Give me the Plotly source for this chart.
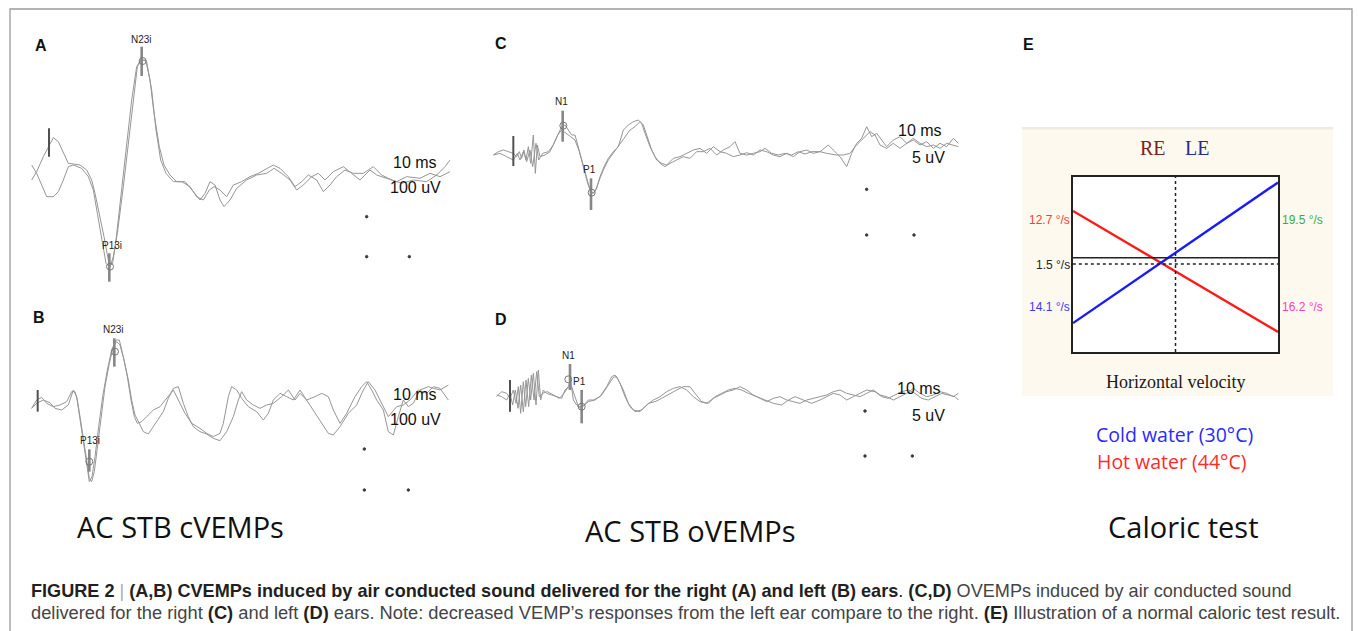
import plotly.graph_objects as go

W, H = 1358, 631

# ---------------- DATA ----------------
# Panel A (cVEMP right ear), latency units / amplitude units (inverted display)
A_trace1 = [(95,540),(110,515),(130,470),(150,430),(160,413),(175,425),(190,460),(205,490),(220,492),(240,495),
            (260,510),(275,540),(285,580),(298,640),(312,710),(325,780),(330,800),(340,770),(352,700),(370,560),
            (385,430),(400,300),(412,200),(425,178),(440,185),(455,270),(468,390),(482,480),(498,520),(520,545),
            (545,545),(570,560),(590,590),(610,600),(628,570),(642,560),(660,570),(680,590),(700,555),(725,545),
            (750,530),(775,520),(800,505),(820,495),(840,505),(865,530),(885,560),(905,545),(925,525),(950,540),
            (970,575),(990,555),(1010,530),(1035,510),(1060,520),(1090,520),(1120,500),(1145,525),(1175,540),
            (1205,550),(1240,540),(1280,545),(1310,525),(1335,500),(1350,480)]
A_trace2 = [(95,495),(110,520),(125,555),(140,590),(160,590),(175,575),(190,540),(205,500),(220,495),(245,505),
            (265,530),(280,570),(292,640),(305,720),(318,790),(328,800),(338,790),(348,720),(362,600),(378,450),
            (395,300),(410,200),(422,180),(437,180),(450,240),(462,340),(478,440),(492,495),(510,525),(530,545),
            (555,545),(580,575),(600,600),(615,580),(630,545),(645,555),(660,600),(672,620),(690,600),(710,565),
            (740,540),(770,525),(800,520),(822,505),(845,520),(870,540),(890,570),(910,555),(935,530),(955,520),
            (975,540),(1000,515),(1030,500),(1055,520),(1080,540),(1110,510),(1130,525),(1160,535),(1190,545),
            (1220,530),(1260,535),(1290,520),(1320,530),(1350,515)]
A_bar_x, A_bar_top, A_bar_bot = [425, 328], [140, 760], [228, 845]
A_start = (147, 385, 470)
A_rings = [(428,183),(330,800)]
A_dots = [(1100,650),(1100,770),(1228,770)]

# Panel B (cVEMP left ear)
B_trace1 = [(95,355),(110,330),(125,322),(140,340),(160,350),(180,345),(200,335),(215,305),(225,305),(232,330),
            (240,380),(250,440),(260,510),(268,565),(275,575),(283,545),(292,470),(303,380),(315,290),(328,220),
            (340,170),(350,155),(360,165),(372,210),(385,270),(395,330),(405,375),(418,400),(430,425),(445,432),
            (460,410),(475,385),(490,365),(505,325),(520,295),(535,290),(550,340),(565,380),(580,410),(600,425),
            (620,432),(640,445),(660,452),(680,425),(700,380),(715,330),(725,305),(740,330),(760,345),(780,355),
            (800,345),(820,340),(845,320),(865,300),(885,330),(900,310),(920,330),(945,320),(965,310),(985,320),
            (1000,360),(1020,400),(1040,370),(1065,320),(1085,290),(1100,275),(1115,300),(1130,330),(1150,360),
            (1165,425),(1180,435),(1195,380),(1210,330),(1225,350),(1240,340),(1260,300),(1285,290),(1300,295),
            (1320,300),(1345,285)]
B_trace2 = [(95,355),(110,340),(130,330),(150,338),(165,355),(185,360),(205,345),(220,300),(230,320),(240,390),
            (250,460),(260,530),(268,575),(276,560),(285,500),(296,410),(308,320),(322,240),(335,180),(348,150),
            (358,150),(370,200),(382,260),(393,330),(403,380),(412,400),(425,395),(440,380),(460,360),(480,350),
            (500,325),(520,300),(535,330),(555,370),(575,400),(600,415),(620,430),(640,440),(660,430),(670,400),
            (685,320),(695,290),(710,300),(725,325),(745,350),(770,365),(790,390),(805,370),(820,330),(840,310),
            (860,320),(880,330),(900,300),(920,330),(945,370),(965,400),(985,430),(1000,435),(1020,410),(1045,370),
            (1070,345),(1090,300),(1105,275),(1125,300),(1145,340),(1165,380),(1190,350),(1210,345),(1230,330),
            (1255,300),(1280,310),(1300,290),(1320,295),(1345,330)]
B_bar_x, B_bar_top, B_bar_bot = [343, 268], [145, 478], [230, 545]
B_start = (113, 300, 365)
B_rings = [(345,185),(268,515)]
B_dots = [(1093,477),(1093,600),(1225,600)]

# Panel C (oVEMP right ear)
C_trace1 = [(100,405),(115,395),(130,390),(145,395),(160,400),(170,410),(178,395),(185,415),(192,390),(198,420),
            (205,380),(212,430),(220,345),(226,460),(232,375),(240,410),(255,405),(270,395),(282,370),(295,340),
            (305,320),(315,315),(325,330),(335,345),(345,345),(355,380),(365,420),(378,465),(390,510),(400,520),
            (410,505),(420,470),(432,440),(445,415),(460,395),(475,380),(490,330),(505,315),(520,305),(535,300),
            (545,310),(555,340),(570,380),(585,410),(600,430),(615,440),(630,430),(650,420),(670,410),(690,415),
            (710,395),(730,395),(750,385),(770,405),(790,390),(810,380),(825,365),(840,400),(860,405),(880,400),
            (900,395),(915,385),(935,400),(955,405),(975,400),(995,405),(1015,395),(1035,402),(1055,395),(1080,395),
            (1105,375),(1120,390),(1140,410),(1160,440),(1175,400),(1190,370),(1205,355),(1220,320),(1235,350),
            (1250,340),(1265,360),(1280,380),(1300,360),(1320,350),(1340,370),(1360,360),(1380,375),(1400,365),
            (1420,385),(1440,370),(1460,380),(1480,355),(1495,370)]
C_trace2 = [(100,405),(120,400),(140,410),(160,420),(172,400),(180,420),(190,395),(200,425),(210,390),(218,440),
            (228,370),(236,420),(248,400),(265,395),(280,375),(293,345),(305,330),(320,340),(332,350),(345,360),
            (358,395),(370,440),(383,490),(395,520),(405,515),(418,480),(430,450),(445,420),(460,400),(478,375),
            (495,350),(510,330),(525,320),(540,305),(550,315),(560,345),(575,390),(590,420),(605,430),(620,435),
            (640,415),(660,410),(680,400),(700,390),(720,385),(740,400),(760,380),(780,395),(800,400),(820,410),
            (840,405),(860,398),(880,405),(900,390),(920,395),(940,405),(960,410),(980,400),(1000,410),(1020,395),
            (1040,390),(1060,400),(1080,395),(1100,400),(1130,405),(1150,405),(1170,400),(1185,380),(1200,365),
            (1215,350),(1230,335),(1245,345),(1260,375),(1280,385),(1300,370),(1320,385),(1340,370),(1360,355),
            (1380,370),(1400,380),(1420,375),(1440,385),(1460,370),(1480,375),(1495,380)]
C_bar_x, C_bar_top, C_bar_bot = [308, 393], [272, 475], [365, 570]
C_start = (160, 348, 438)
C_rings = [(310,317),(395,518)]
C_dots = [(1220,508),(1220,645),(1362,645)]

# Panel D (oVEMP left ear)
D_trace1 = [(110,320),(125,305),(140,310),(150,325),(160,300),(168,340),(175,290),(182,370),(190,275),(197,350),
            (205,265),(212,330),(220,250),(228,345),(235,240),(242,330),(250,300),(260,310),(275,315),(290,320),
            (305,325),(315,300),(325,290),(332,270),(340,330),(350,345),(360,355),(372,345),(385,330),(400,330),
            (420,320),(440,290),(455,260),(465,255),(475,270),(490,300),(505,340),(520,360),(540,365),(560,345),
            (580,330),(600,320),(620,305),(640,295),(660,290),(680,300),(700,320),(720,335),(740,340),(760,325),
            (780,315),(800,305),(820,300),(840,290),(860,300),(880,315),(900,325),(920,335),(940,325),(960,320),
            (980,330),(1000,335),(1020,340),(1040,330),(1060,325),(1080,320),(1100,315),(1120,305),(1140,300),
            (1160,310),(1180,315),(1200,320),(1220,310),(1240,300),(1260,315),(1280,320),(1300,330),(1320,320),
            (1340,310),(1360,295),(1380,310),(1400,320),(1420,315),(1440,305),(1460,310),(1480,320),(1495,310)]
D_trace2 = [(110,315),(125,320),(140,330),(150,310),(158,345),(166,300),(174,355),(182,285),(190,365),(198,270),
            (206,350),(214,255),(222,330),(230,245),(238,320),(248,310),(262,305),(280,315),(298,325),(312,310),
            (322,295),(335,290),(345,320),(355,350),(368,350),(385,335),(405,330),(425,315),(445,285),(460,262),
            (470,260),(480,280),(495,320),(510,350),(525,365),(545,360),(565,340),(585,335),(605,325),(630,310),
            (650,300),(670,290),(690,290),(705,310),(725,335),(745,340),(765,320),(785,310),(805,300),(825,295),
            (845,300),(865,310),(890,320),(915,330),(940,340),(965,345),(985,330),(1005,320),(1030,330),(1055,340),
            (1080,330),(1100,320),(1120,310),(1140,315),(1160,330),(1180,320),(1200,310),(1220,300),(1245,305),
            (1265,320),(1285,325),(1305,315),(1325,305),(1345,300),(1365,310),(1385,325),(1405,330),(1425,320),
            (1445,310),(1465,315),(1485,320),(1495,330)]
D_bar_x, D_bar_top, D_bar_bot = [330, 365], [222, 300], [300, 400]
D_start = (150, 270, 365)
D_rings = [(325,268),(365,350)]
D_dots = [(1215,363),(1215,498),(1357,498)]

# Panel E (caloric test), slow-phase velocities in deg/s (RE at left, LE at right)
E_sides = [0, 1]
E_hot = [12.7, -16.2]     # hot water (44 C)
E_cold = [-14.1, 19.5]    # cold water (30 C)
E_dp = 1.5
E_labels = ["12.7 °/s", "19.5 °/s", "1.5 °/s", "14.1 °/s", "16.2 °/s"]

# ---------------- FIGURE ----------------
WAVE = "rgb(150,150,150)"
fig = go.Figure()

def xd(p0, p1):
    return [p0 / W, p1 / W]

def yd(p0, p1):
    return [1 - p1 / H, 1 - p0 / H]

panels = [
    ("x", "y", (0, 460), (0, 300), [0, 1380], [900, 0]),
    ("x2", "y2", (0, 460), (290, 550), [0, 1380], [780, 0]),
    ("x3", "y3", (460, 980), (20, 280), [0, 1560], [780, 0]),
    ("x4", "y4", (460, 980), (290, 550), [0, 1560], [780, 0]),
]
lay = {}
for xa, ya, px, py, xr, yr in panels:
    xn = "xaxis" + xa[1:]
    yn = "yaxis" + ya[1:]
    lay[xn] = dict(domain=xd(*px), range=xr, visible=False, anchor=ya)
    lay[yn] = dict(domain=yd(*py), range=yr, visible=False, anchor=xa)
fig.update_layout(**lay)

def wave(pts, xa, ya):
    fig.add_trace(go.Scatter(x=[p[0] for p in pts], y=[p[1] for p in pts], xaxis=xa, yaxis=ya,
                             mode="lines", line=dict(color=WAVE, width=1.0), hoverinfo="skip"))

def bars(xs, tops, bots, xa, ya, color, width):
    X, Y = [], []
    for a, b, c in zip(xs, tops, bots):
        X += [a, a, None]
        Y += [b, c, None]
    fig.add_trace(go.Scatter(x=X, y=Y, xaxis=xa, yaxis=ya, mode="lines",
                             line=dict(color=color, width=width), hoverinfo="skip"))

def points(pts, xa, ya, symbol, size, color):
    fig.add_trace(go.Scatter(x=[p[0] for p in pts], y=[p[1] for p in pts], xaxis=xa, yaxis=ya,
                             mode="markers", marker=dict(symbol=symbol, size=size, color=color,
                                                         line=dict(color=color, width=1)),
                             hoverinfo="skip"))

data_sets = [
    ("x", "y", A_trace1, A_trace2, A_bar_x, A_bar_top, A_bar_bot, A_start, A_rings, A_dots),
    ("x2", "y2", B_trace1, B_trace2, B_bar_x, B_bar_top, B_bar_bot, B_start, B_rings, B_dots),
    ("x3", "y3", C_trace1, C_trace2, C_bar_x, C_bar_top, C_bar_bot, C_start, C_rings, C_dots),
    ("x4", "y4", D_trace1, D_trace2, D_bar_x, D_bar_top, D_bar_bot, D_start, D_rings, D_dots),
]
for xa, ya, t1, t2, bx, bt, bb, st, rings, dots in data_sets:
    wave(t1, xa, ya)
    wave(t2, xa, ya)
    bars(bx, bt, bb, xa, ya, "rgb(135,135,135)", 2.6)
    bars([st[0]], [st[1]], [st[2]], xa, ya, "rgb(80,80,80)", 2)
    points(rings, xa, ya, "circle-open", 7, "rgb(120,120,120)")
    points(dots, xa, ya, "circle", 2.5, "rgb(60,60,60)")

ann = []
def txt(text, x, y, xref, yref, size, color="#111", family="Liberation Sans, Arial", xanchor="center"):
    ann.append(dict(text=text, x=x, y=y, xref=xref, yref=yref, showarrow=False, xanchor=xanchor,
                    yanchor="middle", font=dict(size=size, color=color, family=family)))

# panel texts
panel_texts = [
    ("x", "y", "A", (122,135), [("N23i",425,117),("P13i",335,735)], ("10 ms",1245,487), ("100 uV",1245,563)),
    ("x2", "y2", "B", (118,82), [("N23i",340,118),("P13i",270,452)], ("10 ms",1245,313), ("100 uV",1245,388)),
    ("x3", "y3", "C", (122,72), [("N1",305,243),("P1",388,448)], ("10 ms",1380,330), ("5 uV",1405,412)),
    ("x4", "y4", "D", (122,87), [("N1",325,195),("P1",357,275)], ("10 ms",1378,295), ("5 uV",1405,377)),
]
for xa, ya, letter, lp, peaks, t1, t2 in panel_texts:
    txt("<b>%s</b>" % letter, lp[0], lp[1], xa, ya, 16)
    for s, x, y in peaks:
        txt(s, x, y, xa, ya, 10, "#222")
    txt(t1[0], t1[1], t1[2], xa, ya, 16, "#111")
    txt(t2[0], t2[1], t2[2], xa, ya, 16, "#111")

BIG = "Open Sans, Lato"
txt("AC STB cVEMPs", 540, 710, "x2", "y2", 29, "#111", BIG)
txt("AC STB oVEMPs", 690, 722, "x4", "y4", 29, "#111", BIG)

# ---------------- Panel E ----------------
E_px = (1073, 1278)
E_py = (177, 352)
fig.update_layout(
    xaxis5=dict(domain=xd(*E_px), range=[0, 1], anchor="y5", showline=True, mirror=True,
                linecolor="#222", linewidth=1.6, showgrid=False, zeroline=False, showticklabels=False, ticks=""),
    yaxis5=dict(domain=yd(*E_py), range=[-21.0, 20.8], anchor="x5", showline=True, mirror=True,
                linecolor="#222", linewidth=1.6, showgrid=False, zeroline=False, showticklabels=False, ticks=""),
)
shapes = [
    # figure frame
    dict(type="rect", xref="paper", yref="paper", x0=10 / W, x1=1352 / W, y0=-0.05, y1=1 - 9 / H,
         line=dict(color="#9a9a9a", width=1.3), fillcolor="rgba(0,0,0,0)", layer="below"),
    # caloric chart background
    dict(type="rect", xref="paper", yref="paper", x0=1022 / W, x1=1333 / W, y0=1 - 396 / H, y1=1 - 127 / H,
         line=dict(width=0), fillcolor="#fdf9ee", layer="below"),
    dict(type="rect", xref="paper", yref="paper", x0=1022 / W, x1=1333 / W, y0=1 - 129.5 / H, y1=1 - 127 / H,
         line=dict(width=0), fillcolor="#ecebe0", layer="below"),
    dict(type="rect", xref="x5 domain", yref="y5 domain", x0=0, x1=1, y0=0, y1=1,
         line=dict(width=0), fillcolor="white", layer="below"),
    # zero (dotted) and preponderance (solid) lines, vertical dotted midline
    dict(type="line", xref="x5", yref="y5", x0=-0.03, x1=1, y0=0, y1=0,
         line=dict(color="#222", width=1.5, dash="dot")),
    dict(type="line", xref="x5", yref="y5", x0=0, x1=1, y0=E_dp, y1=E_dp,
         line=dict(color="#222", width=1.5)),
    dict(type="line", xref="x5", yref="y5 domain", x0=0.5, x1=0.5, y0=0, y1=1,
         line=dict(color="#222", width=1.5, dash="dot")),
]
fig.update_layout(shapes=shapes)

fig.add_trace(go.Scatter(x=E_sides, y=E_hot, xaxis="x5", yaxis="y5", mode="lines",
                         line=dict(color="#ff1a1a", width=2.4), hoverinfo="skip"))
fig.add_trace(go.Scatter(x=E_sides, y=E_cold, xaxis="x5", yaxis="y5", mode="lines",
                         line=dict(color="#1a1aff", width=2.4), hoverinfo="skip"))

def P(px, py):
    return px / W, 1 - py / H

def ptxt(text, px, py, size, color, family="Liberation Sans, Arial", xanchor="center"):
    x, y = P(px, py)
    txt(text, x, y, "paper", "paper", size, color, family, xanchor)

ptxt("<b>E</b>", 1028, 44, 16, "#111")
ptxt("RE", 1153, 148, 20, "#7b2323", "Liberation Serif, Times New Roman")
ptxt("LE", 1197, 148, 20, "#2b2b8a", "Liberation Serif, Times New Roman")
ptxt(E_labels[0], 1049, 220, 12, "#ff3a3a")
ptxt(E_labels[1], 1302, 220, 12, "#35b035")
ptxt(E_labels[2], 1053, 265, 12, "#222")
ptxt(E_labels[3], 1049, 307, 12, "#3a3aff")
ptxt(E_labels[4], 1302, 307, 12, "#ff3cc0")
ptxt("Horizontal velocity", 1175, 382, 18, "#1a1a1a", "Liberation Serif, Times New Roman")
ptxt("Cold water (30°C)", 1174, 434, 19.5, "#2a2aff", BIG)
ptxt("Hot water (44°C)", 1171, 461, 19.5, "#ff2a2a", BIG)
ptxt("Caloric test", 1183, 526, 29, "#111", BIG)

# caption
BOLD = "#231f20"
REG = "#444444"
CAP_FONT = "Liberation Sans, Arial"
line1 = ("<b>FIGURE 2</b> <span style='color:#aaaaaa'>|</span> "
         "<b>(A,B) CVEMPs induced by air conducted sound delivered for the right (A) and left (B) ears</b>. "
         "<b>(C,D)</b> <span style='color:%s'>OVEMPs induced by air conducted sound</span>" % REG)
line2 = ("<span style='color:%s'>delivered for the right </span><b>(C)</b><span style='color:%s'> and left </span>"
         "<b>(D)</b><span style='color:%s'> ears. Note: decreased VEMP’s responses from the left ear compare to the right. </span>"
         "<b>(E)</b><span style='color:%s'> Illustration of a normal caloric test result.</span>" % (REG, REG, REG, REG))
ptxt(line1, 29, 591, 18.1, BOLD, CAP_FONT, xanchor="left")
ptxt(line2, 29, 612, 18.3, BOLD, CAP_FONT, xanchor="left")

fig.update_layout(
    annotations=ann,
    width=W, height=H,
    margin=dict(l=0, r=0, t=0, b=0),
    paper_bgcolor="white",
    plot_bgcolor="rgba(0,0,0,0)",
    showlegend=False,
)

fig.write_html("out.html", config={"displayModeBar": False},
               post_script="document.body.style.margin='0px';document.body.style.overflow='hidden';")
